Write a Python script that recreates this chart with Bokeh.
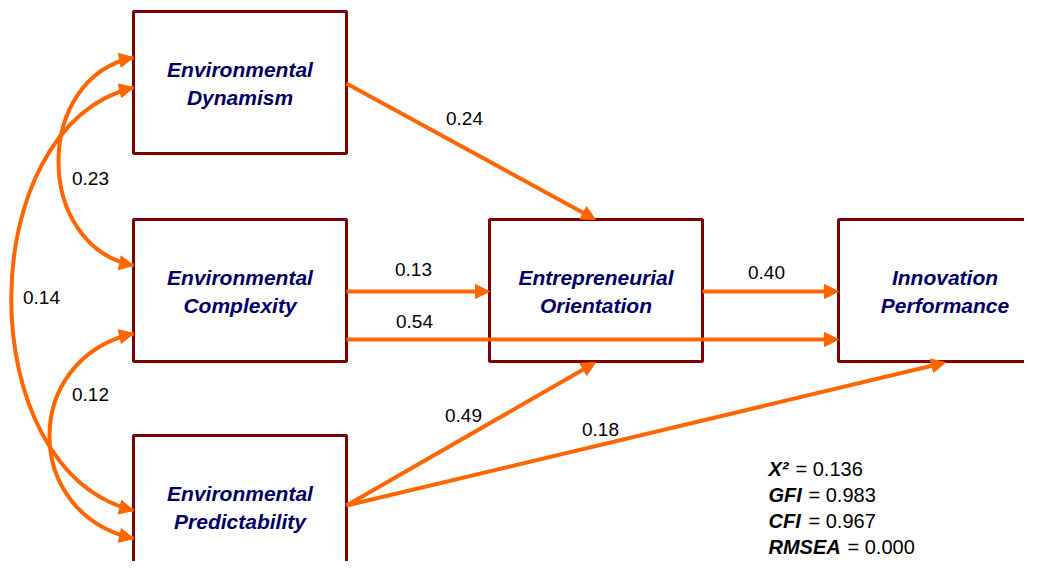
import math
from bokeh.plotting import figure
from bokeh.models import Range1d, Arrow, NormalHead, ColumnDataSource
from bokeh.embed import file_html
from bokeh.resources import INLINE
from bokeh.core.properties import value

# ---------------- data ----------------
construct_ids = ["ED", "EC", "EP", "EO", "IP"]
construct_line1 = ["Environmental", "Environmental", "Environmental", "Entrepreneurial", "Innovation"]
construct_line2 = ["Dynamism", "Complexity", "Predictability", "Orientation", "Performance"]

path_from = ["ED", "EC", "EC", "EO", "EP", "EP"]
path_to = ["EO", "EO", "IP", "IP", "EO", "IP"]
path_coef = [0.24, 0.13, 0.54, 0.40, 0.49, 0.18]

corr_a = ["ED", "ED", "EC"]
corr_b = ["EC", "EP", "EP"]
corr_val = [0.23, 0.14, 0.12]

fit_names = ["X\u00b2", "GFI", "CFI", "RMSEA"]
fit_values = [0.136, 0.983, 0.967, 0.000]

# ---------------- layout (positions / styles) ----------------
BOX_W, BOX_H = 213, 142
box_left = {"ED": 133, "EC": 133, "EP": 133, "EO": 489, "IP": 838}
box_top = {"ED": 11, "EC": 219, "EP": 435, "EO": 219, "IP": 219}


def right(n, dy):
    return (box_left[n] + BOX_W, box_top[n] + dy)


def left(n, dy):
    return (box_left[n], box_top[n] + dy)


def top(n, dx):
    return (box_left[n] + dx, box_top[n])


def bottom(n, dx):
    return (box_left[n] + dx, box_top[n] + BOX_H + 1)


path_geom = {
    ("ED", "EO"): (right("ED", 72), top("EO", 106), (464, 118)),
    ("EC", "EO"): (right("EC", 72), left("EO", 72), (413, 269)),
    ("EC", "IP"): (right("EC", 120), left("IP", 120), (414, 321)),
    ("EO", "IP"): (right("EO", 72), left("IP", 72), (766, 272)),
    ("EP", "EO"): (right("EP", 70), bottom("EO", 106), (463, 415)),
    ("EP", "IP"): (right("EP", 70), bottom("IP", 107), (600, 429)),
}

# correlation arcs: (dy at a, dy at b, control x, control dy, label pos)
corr_geom = {
    ("ED", "EC"): (46, 46, 33, 20, (90, 178)),
    ("ED", "EP"): (76, 75, -30, 40, (41, 297)),
    ("EC", "EP"): (114, 103, 21, 25, (90, 394)),
}

ORANGE = "#FF6600"
MAROON = "#800000"
NAVY = "#000066"
FONT = "Liberation Sans"

p = figure(width=1024, height=561, output_backend="svg", toolbar_location=None,
           x_range=Range1d(0, 1024), y_range=Range1d(561, 0), min_border=0,
           background_fill_color="white", border_fill_color="white")
p.axis.visible = False
p.grid.visible = False
p.outline_line_color = None

# boxes
bsrc = ColumnDataSource(dict(
    left=[box_left[n] for n in construct_ids],
    right=[box_left[n] + BOX_W for n in construct_ids],
    top=[box_top[n] for n in construct_ids],
    bottom=[box_top[n] + BOX_H for n in construct_ids],
))
p.quad(left="left", right="right", top="top", bottom="bottom", source=bsrc,
       fill_color="white", line_color=MAROON, line_width=3)


def head():
    return NormalHead(size=14, fill_color=ORANGE, line_color=ORANGE, line_width=1)


# correlation arcs
bz = dict(x0=[], y0=[], x1=[], y1=[], cx0=[], cy0=[], cx1=[], cy1=[])
clab = dict(x=[], y=[], t=[])
for a, b, v in zip(corr_a, corr_b, corr_val):
    dya, dyb, cx, h, lab = corr_geom[(a, b)]
    x0, y0 = left(a, dya)
    x1, y1 = left(b, dyb)
    bz["x0"].append(x0); bz["y0"].append(y0)
    bz["x1"].append(x1); bz["y1"].append(y1)
    bz["cx0"].append(cx); bz["cy0"].append(y0 + h)
    bz["cx1"].append(cx); bz["cy1"].append(y1 - h)
    for (px, py), (qx, qy) in (((x0, y0), (cx, y0 + h)), ((x1, y1), (cx, y1 - h))):
        dx, dy = px - qx, py - qy
        L = math.hypot(dx, dy)
        p.add_layout(Arrow(end=head(), x_start=px - dx / L * 8, y_start=py - dy / L * 8,
                           x_end=px, y_end=py, line_color=ORANGE, line_width=4))
    clab["x"].append(lab[0]); clab["y"].append(lab[1]); clab["t"].append(f"{v:.2f}")
p.bezier(x0="x0", y0="y0", x1="x1", y1="y1", cx0="cx0", cy0="cy0", cx1="cx1", cy1="cy1",
         source=ColumnDataSource(bz), line_color=ORANGE, line_width=4)

# path arrows
plab = dict(x=[], y=[], t=[])
for f, t, c in zip(path_from, path_to, path_coef):
    (xs, ys), (xe, ye), lab = path_geom[(f, t)]
    p.add_layout(Arrow(end=head(), x_start=xs, y_start=ys, x_end=xe, y_end=ye,
                       line_color=ORANGE, line_width=4))
    plab["x"].append(lab[0]); plab["y"].append(lab[1]); plab["t"].append(f"{c:.2f}")

for src in (plab, clab):
    p.text(x="x", y="y", text="t", source=ColumnDataSource(src),
           text_font=value(FONT), text_font_size="19px", text_color="black",
           text_align="center", text_baseline="middle")

# construct names
cx_ = [box_left[n] + BOX_W / 2 for n in construct_ids]
cy_ = [box_top[n] + BOX_H / 2 for n in construct_ids]
p.text(x=cx_, y=[y - 13 for y in cy_], text=construct_line1,
       text_font=value(FONT), text_font_size="21px", text_font_style="bold italic",
       text_color=NAVY, text_align="center", text_baseline="middle")
p.text(x=cx_, y=[y + 15 for y in cy_], text=construct_line2,
       text_font=value(FONT), text_font_size="21px", text_font_style="bold italic",
       text_color=NAVY, text_align="center", text_baseline="middle")

# fit statistics
fit_base = [468, 494, 520, 546]
fit_eq_x = [795, 808, 808, 847]
p.text(x=[768] * 4, y=fit_base, text=fit_names,
       text_font=value(FONT), text_font_size="20px", text_font_style="bold italic",
       text_color="black", text_align="left", text_baseline="alphabetic")
p.text(x=fit_eq_x, y=fit_base, text=[f"= {v:.3f}" for v in fit_values],
       text_font=value(FONT), text_font_size="20px",
       text_color="black", text_align="left", text_baseline="alphabetic")

open("out.html", "w").write(file_html(p, INLINE))
